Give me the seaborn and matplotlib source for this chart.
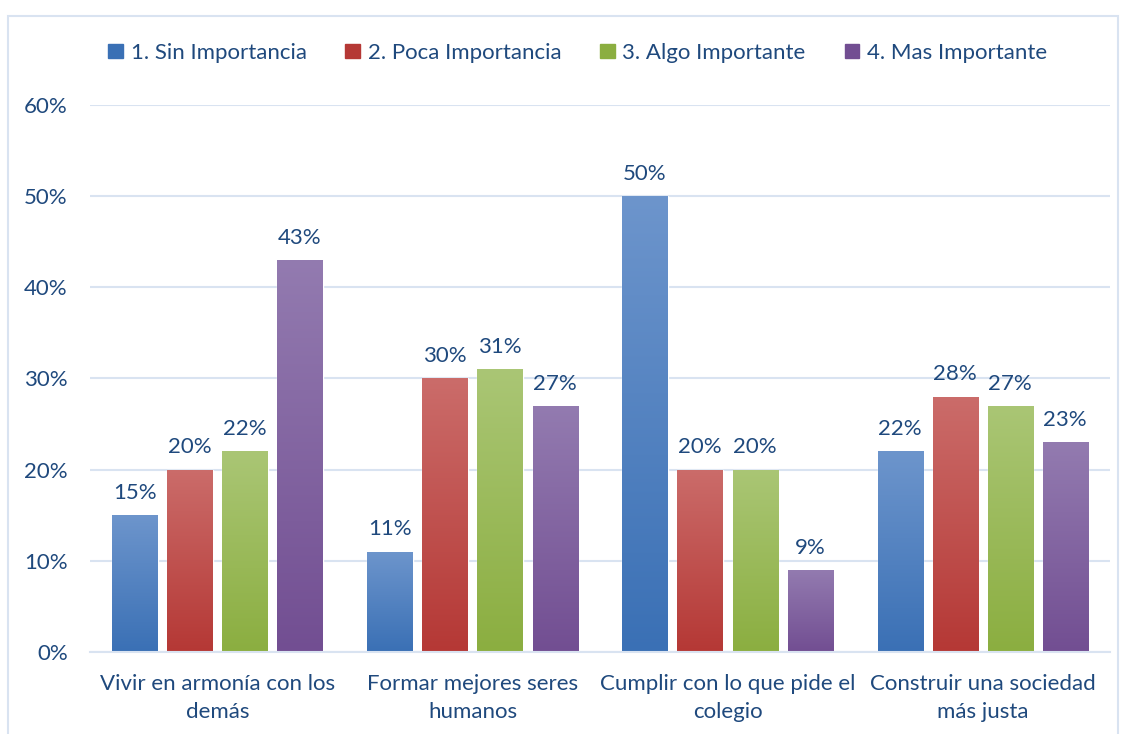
import numpy as np
import pandas as pd
import matplotlib.pyplot as plt
import seaborn as sns
from matplotlib.colors import LinearSegmentedColormap
from matplotlib.patches import Rectangle

plt.switch_backend('Agg')

# datos
categorias = ['Vivir en armonía con los\ndemás', 'Formar mejores seres\nhumanos',
              'Cumplir con lo que pide el\ncolegio', 'Construir una sociedad\nmás justa']
niveles = ['1. Sin Importancia', '2. Poca Importancia', '3. Algo Importante', '4. Mas Importante']
sin_importancia = [15, 11, 50, 22]
poca_importancia = [20, 30, 20, 28]
algo_importante = [22, 31, 20, 27]
mas_importante = [43, 27, 9, 23]
ticks_y = [0, 10, 20, 30, 40, 50, 60]

valores = [sin_importancia, poca_importancia, algo_importante, mas_importante]
df = pd.DataFrame([
    {'Categoria': c, 'Nivel': n, 'Valor': v[i]}
    for n, v in zip(niveles, valores)
    for i, c in enumerate(categorias)
])

# colores (arriba, abajo) para el degradado
colores = {
    niveles[0]: ('#6D95CC', '#3A70B5'),
    niveles[1]: ('#CB6C6A', '#B53835'),
    niveles[2]: ('#AAC675', '#8BAE40'),
    niveles[3]: ('#937BB0', '#724E92'),
}
texto = '#1F497D'
fs = 16

sns.set_theme(style='white')
plt.rcParams['font.family'] = ['Lato', 'DejaVu Sans']

fig = plt.figure(figsize=(11.26, 7.34), dpi=100)
ax = fig.add_axes([0.0799, 0.1117, 0.906, 0.7453])

paleta = {n: colores[n][1] for n in niveles}
sns.barplot(data=df, x='Categoria', y='Valor', hue='Nivel', order=categorias,
            hue_order=niveles, palette=paleta, width=0.863, gap=0.18,
            saturation=1, legend=False, ax=ax, errorbar=None)

# degradado en cada barra y etiquetas
grad = np.linspace(0, 1, 256).reshape(-1, 1)
for k, cont in enumerate(ax.containers):
    top, bot = colores[niveles[k]]
    cmap = LinearSegmentedColormap.from_list('g', [top, bot])
    for bar, v in zip(cont, valores[k]):
        x, w, h = bar.get_x(), bar.get_width(), bar.get_height()
        im = ax.imshow(grad, cmap=cmap, aspect='auto', extent=[x, x + w, 0, h],
                       origin='upper', zorder=2)
        im.set_clip_path(bar)
        ax.text(x + w / 2, h + 1.35, f'{v}%', ha='center', va='bottom',
                fontsize=fs, color=texto)

ax.set_xlim(-0.5, 3.5)
ax.set_ylim(0, 60)

ax.set_yticks(ticks_y)
ax.set_yticklabels([f'{t}%' for t in ticks_y])
ax.grid(axis='y', color='#D9E3F1', linewidth=1.5, zorder=0)
ax.set_axisbelow(True)
ax.tick_params(axis='y', length=0, pad=16, labelsize=fs, labelcolor=texto)
ax.tick_params(axis='x', length=0, pad=16, labelsize=fs, labelcolor=texto)
for lbl in ax.get_xticklabels():
    lbl.set_linespacing(1.5)
ax.set_xlabel('')
ax.set_ylabel('')
for s in ['top', 'right', 'left']:
    ax.spines[s].set_visible(False)
ax.spines['bottom'].set_color('#D9E3F1')
ax.spines['bottom'].set_linewidth(1.5)

handles = [Rectangle((0, 0), 1, 1, color=colores[n][1]) for n in niveles]
fig.legend(handles, niveles, loc='center', bbox_to_anchor=(0.513, 0.928), ncol=4,
           frameon=False, fontsize=fs, labelcolor=texto, handlelength=0.65,
           handleheight=0.65, handletextpad=0.35, columnspacing=1.75)

# borde del gráfico
fig.patches.append(Rectangle((8 / 1126, -0.01), 1110 / 1126, 1 - 16 / 734 + 0.01,
                             transform=fig.transFigure, fill=False,
                             edgecolor='#D9E3F1', linewidth=1.5))

fig.savefig('out.png', dpi=100)
